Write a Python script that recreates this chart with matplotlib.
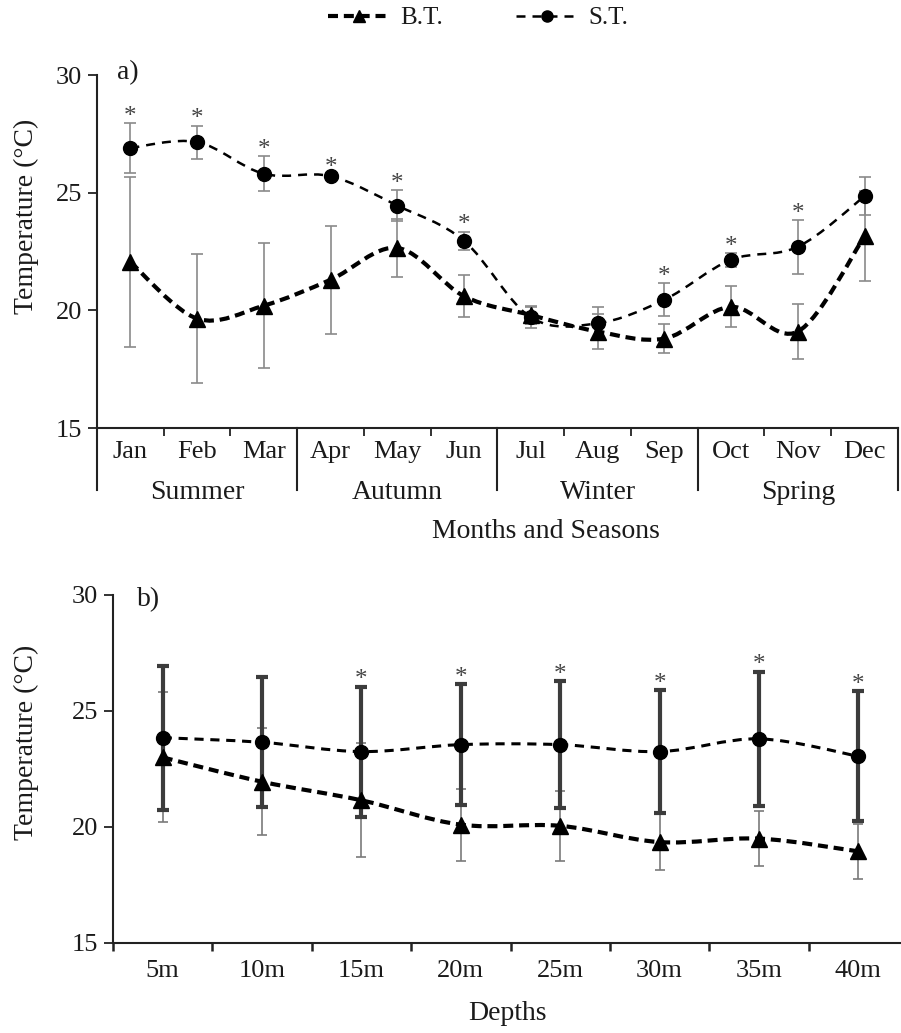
import matplotlib
matplotlib.use("Agg")
import matplotlib.pyplot as plt
from matplotlib.path import Path
from matplotlib.patches import PathPatch
from matplotlib.lines import Line2D

plt.rcParams['font.family'] = ['Liberation Serif', 'DejaVu Serif']
TXT = '#1a1a1a'

# ---- data: monthly means (a) ----
months = ['Jan', 'Feb', 'Mar', 'Apr', 'May', 'Jun',
          'Jul', 'Aug', 'Sep', 'Oct', 'Nov', 'Dec']
seasons = ['Summer', 'Autumn', 'Winter', 'Spring']
st_month = [26.9, 27.15, 25.8, 25.7, 24.45, 22.95, 19.7, 19.45, 20.45, 22.15, 22.7, 24.85]
st_month_err = [1.07, 0.7, 0.75, 0.1, 0.66, 0.4, 0.45, 0.68, 0.7, 0.3, 1.15, 0.8]
bt_month = [22.05, 19.65, 20.2, 21.3, 22.65, 20.6, 19.8, 19.1, 18.8, 20.15, 19.1, 23.15]
bt_month_err = [3.6, 2.75, 2.65, 2.3, 1.25, 0.9, 0.4, 0.75, 0.62, 0.87, 1.15, 1.9]
month_sig = [True, True, True, True, True, True, False, False, True, True, True, False]

# ---- data: means by depth (b) ----
depths = ['5m', '10m', '15m', '20m', '25m', '30m', '35m', '40m']
st_depth = [23.85, 23.65, 23.25, 23.55, 23.55, 23.25, 23.8, 23.05]
st_depth_err = [3.1, 2.8, 2.8, 2.6, 2.75, 2.65, 2.9, 2.8]
bt_depth = [23.0, 21.95, 21.15, 20.1, 20.05, 19.35, 19.5, 18.95]
bt_depth_err = [2.8, 2.3, 2.45, 1.55, 1.5, 1.2, 1.2, 1.2]
depth_sig = [False, False, True, True, True, True, True, True]

ST_DASH = (0, (3.6, 2.8))
BT_DASH = (0, (2.4, 1.4))


def smooth_line(ax, x, y, lw, dash):
    """Smoothed (Catmull-Rom style) curve through the points."""
    n = len(x)
    verts = [(x[0], y[0])]
    codes = [Path.MOVETO]
    for i in range(n - 1):
        p0 = i - 1 if i > 0 else i
        p3 = i + 2 if i + 2 < n else i + 1
        c1 = (x[i] + (x[i + 1] - x[p0]) / 6, y[i] + (y[i + 1] - y[p0]) / 6)
        c2 = (x[i + 1] - (x[p3] - x[i]) / 6, y[i + 1] - (y[p3] - y[i]) / 6)
        verts += [c1, c2, (x[i + 1], y[i + 1])]
        codes += [Path.CURVE4] * 3
    patch = PathPatch(Path(verts, codes), fill=False, edgecolor='black',
                      lw=lw, linestyle=dash, zorder=3, capstyle='butt')
    ax.add_patch(patch)


def style_axes(ax):
    for s in ('top', 'right'):
        ax.spines[s].set_visible(False)
    for s in ('left', 'bottom'):
        ax.spines[s].set_linewidth(1.5)
        ax.spines[s].set_color('#222222')
    ax.set_ylim(15, 30)
    ax.set_yticks([15, 20, 25, 30])
    ax.tick_params(axis='y', direction='out', length=6.5, width=1.3,
                   labelsize=19, labelcolor=TXT, color='#222222', pad=4)


def mark_significant(ax, xs, vals, errs, flags):
    for x, v, e, s in zip(xs, vals, errs, flags):
        if s:
            ax.annotate('*', xy=(x, v + e), xytext=(0, -3.5),
                        textcoords='offset points', ha='center', va='bottom',
                        fontsize=18, color='#444444')


fig = plt.figure(figsize=(9.01, 10.33), dpi=100)
ax1 = fig.add_axes([0.10766, 0.58567, 0.8890, 0.34172])
ax2 = fig.add_axes([0.12542, 0.08713, 0.88235, 0.33688])

# ---------- panel a ----------
style_axes(ax1)
xm = [i + 0.5 for i in range(len(months))]
ax1.set_xlim(0, 12)
ax1.set_xticks(range(13))
ax1.set_xticklabels([])
ax1.set_xticks(xm, minor=True)
ax1.set_xticklabels(months, minor=True)
ax1.tick_params(axis='x', which='major', direction='out', length=6, width=1.3,
                color='#222222')
ax1.tick_params(axis='x', which='minor', length=0, labelsize=19,
                labelcolor=TXT, pad=9)

ax1.errorbar(xm, bt_month, yerr=bt_month_err, fmt='none', ecolor='#8a8a8a',
             elinewidth=1.2, capsize=4.3, capthick=1.2, zorder=2)
ax1.errorbar(xm, st_month, yerr=st_month_err, fmt='none', ecolor='#8a8a8a',
             elinewidth=1.2, capsize=4.3, capthick=1.2, zorder=2)
smooth_line(ax1, xm, st_month, 1.8, ST_DASH)
smooth_line(ax1, xm, bt_month, 3.0, BT_DASH)
ax1.plot(xm, st_month, 'o', color='black', ms=10, zorder=4)
ax1.plot(xm, bt_month, '^', color='black', ms=11, zorder=4)
mark_significant(ax1, xm, st_month, st_month_err, month_sig)

# season dividers and labels under the month labels
xt = ax1.get_xaxis_transform()
for b in range(0, 13, 3):
    ax1.plot([b, b], [0, -0.1756], transform=xt, color='#222222', lw=1.5,
             clip_on=False)
for k, name in enumerate(seasons):
    ax1.text(1.5 + 3 * k, -0.184, name, transform=xt, ha='center', va='center',
             fontsize=20, color=TXT)
ax1.text(117 / 901, 1 - 73 / 1033, 'a)', transform=fig.transFigure,
         ha='left', va='center', fontsize=20, color=TXT)

# ---------- panel b ----------
style_axes(ax2)
xd = list(range(len(depths)))
ax2.set_xlim(-0.5, len(depths) - 0.5)
ax2.set_xticks([i - 0.5 for i in range(len(depths) + 1)])
ax2.set_xticklabels([])
ax2.set_xticks(xd, minor=True)
ax2.set_xticklabels(depths, minor=True)
ax2.tick_params(axis='x', which='major', direction='out', length=6, width=1.8,
                color='#222222')
ax2.tick_params(axis='x', which='minor', length=0, labelsize=19,
                labelcolor=TXT, pad=12)

ax2.errorbar(xd, bt_depth, yerr=bt_depth_err, fmt='none', ecolor='#7a7a7a',
             elinewidth=1.2, capsize=3.8, capthick=1.2, zorder=2)
ax2.errorbar(xd, st_depth, yerr=st_depth_err, fmt='none', ecolor='#3c3c3c',
             elinewidth=3.0, capsize=4.5, capthick=3.0, zorder=2)
smooth_line(ax2, xd, st_depth, 2.2, (0, (3.0, 2.2)))
smooth_line(ax2, xd, bt_depth, 3.0, BT_DASH)
ax2.plot(xd, st_depth, 'o', color='black', ms=10, zorder=4)
ax2.plot(xd, bt_depth, '^', color='black', ms=11, zorder=4)
mark_significant(ax2, xd, st_depth, st_depth_err, depth_sig)

ax2.text(137 / 901, 1 - 600 / 1033, 'b)', transform=fig.transFigure,
         ha='left', va='center', fontsize=20, color=TXT)

# ---------- shared texts ----------
fig.text(546 / 901, 1 - 532 / 1033, 'Months and Seasons', ha='center',
         va='center', fontsize=20, color=TXT)
fig.text(507 / 901, 1 - 1013 / 1033, 'Depths', ha='center', va='center',
         fontsize=20, color=TXT)
for yc in (216, 742):
    fig.text(26 / 901, 1 - yc / 1033, 'Temperature (°C)', rotation=90,
             ha='center', va='center', fontsize=20, color=TXT)

handles = [
    Line2D([], [], color='black', lw=3.0, linestyle=BT_DASH, marker='^', ms=8),
    Line2D([], [], color='black', lw=1.8, linestyle=ST_DASH, marker='o', ms=8),
]
fig.legend(handles, ['B.T.', 'S.T.'], loc='center',
           bbox_to_anchor=(478 / 901, 1 - 18 / 1033), ncol=2, frameon=False,
           fontsize=18, handlelength=2.5, handletextpad=0.4, columnspacing=2.9,
           labelcolor=TXT)

fig.savefig('out.png', dpi=100, facecolor='white')
